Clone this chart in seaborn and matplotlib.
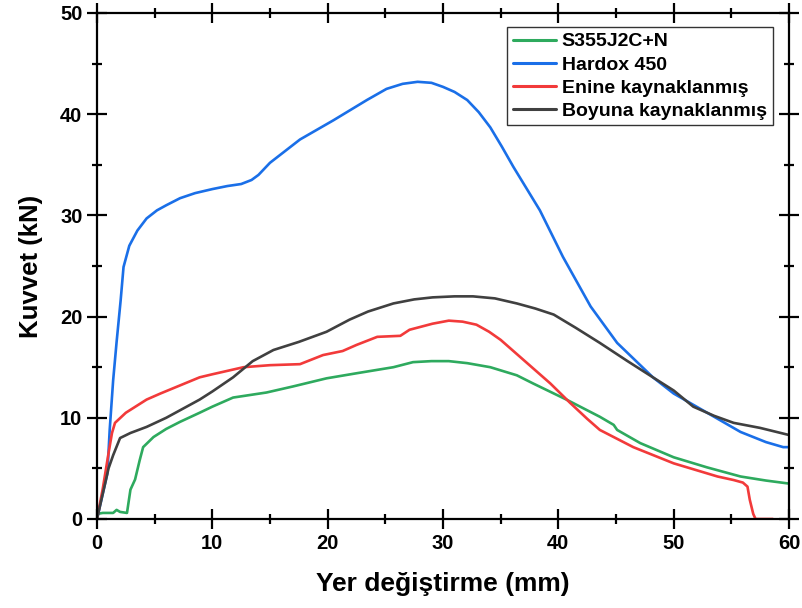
import numpy as np
import pandas as pd
import matplotlib
matplotlib.use("Agg")
import matplotlib.pyplot as plt
import seaborn as sns
from matplotlib.ticker import MultipleLocator

# ---- data ----
s355_x = [0, 0.5, 1.0, 1.4, 1.7, 2.0, 2.6, 2.9, 3.3, 3.7, 4.0, 4.9, 6.0, 7.2, 8.9, 10.0, 11.8,
          14.7, 17.0, 19.9, 22.5, 25.7, 27.4, 29.0, 30.5, 32.1, 34.1, 36.4, 37.8, 40.7,
          43.6, 44.8, 45.1, 47.1, 50.0, 52.9, 55.8, 58.0, 60.0]
s355_y = [0.5, 0.6, 0.6, 0.6, 0.9, 0.7, 0.6, 2.9, 3.9, 5.8, 7.1, 8.1, 8.9, 9.6, 10.5, 11.1, 12.0,
          12.5, 13.1, 13.9, 14.4, 15.0, 15.5, 15.6, 15.6, 15.4, 15.0, 14.2, 13.4, 11.8,
          10.1, 9.3, 8.8, 7.5, 6.1, 5.1, 4.2, 3.8, 3.5]

hardox_x = [0, 0.5, 0.9, 1.1, 1.4, 1.7, 2.05, 2.3, 2.8, 3.5, 4.3, 5.2, 6.0, 7.2, 8.5, 10.0,
            11.3, 12.5, 13.4, 14.0, 15.0, 17.6, 20.5, 23.4, 25.1, 26.5, 27.8, 29.0, 30.0,
            31.0, 32.1, 33.1, 34.1, 35.1, 36.1, 38.4, 40.4, 42.8, 45.1, 48.2, 50.0, 52.9,
            55.8, 58.0, 59.5, 60.0]
hardox_y = [0, 2.5, 4.5, 8.8, 13.7, 17.5, 21.6, 24.9, 27.0, 28.5, 29.7, 30.5, 31.0, 31.7, 32.2,
            32.6, 32.9, 33.1, 33.5, 34.0, 35.2, 37.5, 39.4, 41.4, 42.5, 43.0, 43.2, 43.1, 42.7,
            42.2, 41.4, 40.2, 38.7, 36.8, 34.8, 30.5, 25.9, 21.0, 17.4, 14.0, 12.4, 10.5,
            8.6, 7.6, 7.1, 7.1]

enine_x = [0, 0.5, 1.0, 1.3, 1.56, 2.5, 4.3, 5.5, 7.2, 8.9, 10.0, 12.7, 15.0, 17.6, 19.6, 21.3,
           22.5, 24.3, 26.3, 27.1, 29.1, 30.5, 31.7, 32.9, 34.0, 35.0, 36.7, 39.3, 41.0,
           42.5, 43.6, 46.5, 50.0, 53.8, 55.2, 56.0, 56.4, 56.6, 56.9, 57.1, 58.6]
enine_y = [0, 3.0, 6.5, 8.5, 9.5, 10.5, 11.8, 12.4, 13.2, 14.0, 14.3, 15.0, 15.2, 15.3, 16.2, 16.6,
           17.2, 18.0, 18.1, 18.7, 19.3, 19.6, 19.5, 19.2, 18.5, 17.7, 16.0, 13.4, 11.5,
           9.9, 8.8, 7.1, 5.5, 4.2, 3.85, 3.6, 3.2, 1.9, 0.5, 0.0, 0.0]

boyuna_x = [0, 0.5, 1.0, 1.4, 2.0, 2.9, 4.3, 6.0, 8.9, 10.0, 11.8, 13.5, 15.3, 17.5, 19.9,
            21.9, 23.5, 25.7, 27.5, 29.1, 31.0, 32.6, 34.5, 36.4, 38.0, 39.6, 41.5, 43.6,
            46.0, 48.2, 50.0, 51.7, 53.5, 55.2, 57.5, 60.0]
boyuna_y = [0, 2.5, 5.0, 6.3, 8.0, 8.5, 9.1, 10.0, 11.8, 12.6, 14.0, 15.6, 16.7, 17.5, 18.5,
            19.7, 20.5, 21.3, 21.7, 21.9, 22.0, 22.0, 21.8, 21.3, 20.8, 20.2, 18.9, 17.4,
            15.6, 14.0, 12.7, 11.1, 10.2, 9.5, 9.0, 8.3]

labels = ["S355J2C+N", "Hardox 450", "Enine kaynaklanmış", "Boyuna kaynaklanmış"]
colors = ["#2EAA5E", "#1A6FE8", "#F23A3A", "#404040"]

frames = []
for lab, xs, ys in zip(labels,
                       [s355_x, hardox_x, enine_x, boyuna_x],
                       [s355_y, hardox_y, enine_y, boyuna_y]):
    frames.append(pd.DataFrame({"x": xs, "y": ys, "seri": lab}))
df = pd.concat(frames, ignore_index=True)

sns.set_theme(style="white")
plt.rcParams["font.family"] = ["Liberation Sans", "DejaVu Sans"]
plt.rcParams["font.weight"] = "bold"
plt.rcParams["text.color"] = "black"
plt.rcParams["axes.labelcolor"] = "black"
plt.rcParams["xtick.color"] = "black"
plt.rcParams["ytick.color"] = "black"

fig = plt.figure(figsize=(8.02, 6.08), dpi=100)
ax = fig.add_axes([97 / 802, 89 / 608, 692 / 802, 506 / 608])

sns.lineplot(data=df, x="x", y="y", hue="seri", hue_order=labels,
             palette=dict(zip(labels, colors)), linewidth=1.9, ax=ax,
             sort=False, estimator=None)

ax.set_xlim(0, 60)
ax.set_ylim(0, 50)
ax.xaxis.set_major_locator(MultipleLocator(10))
ax.xaxis.set_minor_locator(MultipleLocator(5))
ax.yaxis.set_major_locator(MultipleLocator(10))
ax.yaxis.set_minor_locator(MultipleLocator(5))
ax.tick_params(which="major", direction="inout", length=15, width=1.6,
               top=True, right=True, bottom=True, left=True,
               labelsize=14.5, colors="black", pad=3)
ax.tick_params(which="minor", direction="inout", length=7, width=1.6,
               top=True, right=True, bottom=True, left=True, colors="black")
for lab in ax.get_xticklabels() + ax.get_yticklabels():
    lab.set_fontweight("bold")
for sp in ax.spines.values():
    sp.set_linewidth(1.6)
    sp.set_color("black")

ax.set_xlabel("Yer değiştirme (mm)", fontsize=19, fontweight="bold", labelpad=14,
              color="black")
ax.set_ylabel("Kuvvet (kN)", fontsize=18.5, fontweight="bold", labelpad=12,
              color="black")

leg = ax.legend(loc="upper right", bbox_to_anchor=(0.982, 0.98),
                prop={"weight": "bold", "size": 14}, frameon=True, fancybox=False,
                borderpad=0.3, labelspacing=0.28, handlelength=2.2, handletextpad=0.3,
                borderaxespad=0.2)
leg.get_frame().set_edgecolor("#333333")
leg.get_frame().set_linewidth(1.0)
leg.get_frame().set_facecolor("white")
leg.get_frame().set_alpha(1)
for txt in leg.get_texts():
    txt.set_color("black")
for line in leg.get_lines():
    line.set_linewidth(2.2)

fig.savefig("out.png", dpi=100)
